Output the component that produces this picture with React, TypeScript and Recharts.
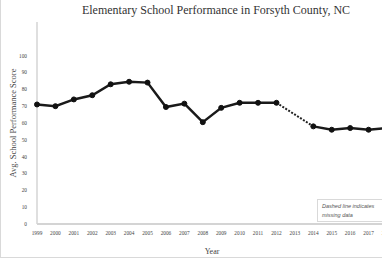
import { LineChart, Line, XAxis, YAxis, Label } from "recharts";

const years = [
  "1999", "2000", "2001", "2002", "2003", "2004", "2005", "2006", "2007", "2008",
  "2009", "2010", "2011", "2012", "2013", "2014", "2015", "2016", "2017", "2018",
];

// 2013 has no data; the gap is bridged by a dashed segment
const scores: (number | null)[] = [
  71, 70, 74, 76.5, 83, 84.5, 84, 69.5, 71.5, 60.5,
  69, 72, 72, 72, null, 58, 56, 57, 56, 57,
];

const gapScores: (number | null)[] = years.map((_, i) =>
  i === 13 || i === 15 ? scores[i] : null
);

const yTicks = [0, 10, 20, 30, 40, 50, 60, 70, 80, 90, 100];

const data = years.map((year, i) => ({
  year,
  score: scores[i],
  gap: gapScores[i],
}));

const serif = "'Liberation Serif', 'Times New Roman', serif";

export default function App() {
  return (
    <div
      style={{
        position: "absolute",
        left: 0,
        top: 0,
        width: 382,
        height: 259,
        overflow: "hidden",
        background: "#fff",
        fontFamily: serif,
      }}
    >
      <div
        style={{
          position: "absolute",
          left: 0,
          top: 0,
          width: 382,
          height: 258,
          borderLeft: "1px solid #d9d9d9",
          borderBottom: "1px solid #d9d9d9",
          boxSizing: "border-box",
          pointerEvents: "none",
        }}
      />
      <div
        style={{
          position: "absolute",
          top: 3,
          left: 216,
          transform: "translateX(-50%)",
          whiteSpace: "nowrap",
          fontSize: 12,
          lineHeight: "15px",
          color: "#333",
        }}
      >
        Elementary School Performance in Forsyth County, NC
      </div>
      <LineChart
        width={400}
        height={259}
        data={data}
        margin={{ top: 22, right: 13, bottom: 0, left: 0 }}
      >
        <XAxis
          dataKey="year"
          height={35}
          tick={{ fontSize: 5.3, fill: "#444", fontFamily: serif }}
          tickLine={false}
          axisLine={{ stroke: "#d4d4d4", strokeWidth: 2 }}
          interval={0}
          tickMargin={1}
        >
          <Label
            value="Year"
            position="insideBottom"
            offset={5}
            style={{ fontSize: 8, fill: "#444", fontFamily: serif }}
          />
        </XAxis>
        <YAxis
          width={37}
          domain={[0, 120]}
          ticks={yTicks}
          tick={{ fontSize: 5.3, fill: "#444", fontFamily: serif }}
          tickLine={false}
          axisLine={{ stroke: "#d4d4d4", strokeWidth: 1.5 }}
          tickMargin={4}
        >
          <Label
            value="Avg. School Performance Score"
            angle={-90}
            position="insideLeft"
            offset={13}
            style={{ fontSize: 8.5, fill: "#444", fontFamily: serif, textAnchor: "middle" }}
          />
        </YAxis>
        <Line
          dataKey="gap"
          stroke="#222"
          strokeWidth={2}
          strokeDasharray="2 1.5"
          dot={false}
          connectNulls
          isAnimationActive={false}
        />
        <Line
          dataKey="score"
          stroke="#1a1a1a"
          strokeWidth={2.5}
          dot={{ r: 2.5, fill: "#111", stroke: "#111", strokeWidth: 1 }}
          activeDot={false}
          isAnimationActive={false}
        />
      </LineChart>
      <div
        style={{
          position: "absolute",
          left: 317,
          top: 199,
          width: 70,
          height: 23,
          border: "1px solid #d9d9d9",
          boxSizing: "border-box",
          background: "#fff",
          padding: "2px 0 0 4px",
          fontFamily: "'Liberation Sans', Arial, sans-serif",
          fontStyle: "italic",
          fontSize: 5.5,
          lineHeight: "9px",
          color: "#555",
          whiteSpace: "nowrap",
        }}
      >
        Dashed line indicates
        <br />
        missing data
      </div>
    </div>
  );
}
